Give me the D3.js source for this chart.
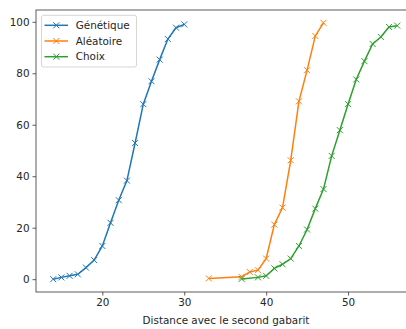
<!DOCTYPE html>
<html><head><meta charset="utf-8">
<script src="https://cdn.jsdelivr.net/npm/d3@7"></script>
<style>body{margin:0;background:#fff}svg{display:block}text{font-family:"DejaVu Sans",sans-serif;fill:#262626}</style>
</head><body><svg id="c" width="406" height="329"></svg>
<script>
const seriesNames = ["Génétique", "Aléatoire", "Choix"];
const colors = ["#1f77b4", "#ff7f0e", "#2ca02c"];
const xGen = [14,15,16,17,18,19,20,21,22,23,24,25,26,27,28,29,30];
const yGen = [0,0.7,1.3,1.9,4.5,7.4,12.9,21.9,30.7,38.3,52.9,68,76.9,85.3,93.3,97.7,99];
const xAle = [33,37,38,39,40,41,42,43,44,45,46,47];
const yAle = [0.3,0.9,2.8,3.5,8,21.2,27.8,46.2,69.1,81.2,94.5,99.6];
const xCho = [37,39,40,41,42,43,44,45,46,47,48,49,50,51,52,53,54,55,56];
const yCho = [0.1,0.7,1.3,4.2,5.8,8,12.9,19.3,27.4,35,47.9,57.9,68,77.6,84.7,91.4,94.1,98,98.5];
const xTicks = [20,30,40,50];
const yTicks = [0,20,40,60,80,100];
const xLabel = "Distance avec le second gabarit";

const series = [[xGen,yGen],[xAle,yAle],[xCho,yCho]].map((s,i)=>({name:seriesNames[i],color:colors[i],pts:s[0].map((x,j)=>[x,s[1][j]])}));

const svg = d3.select("#c");
const L=36, T=10, B=292, R=414.4;
const FS = 10.4;
const x = d3.scaleLinear().domain([11.9,58.1]).range([L,R]);
const y = d3.scaleLinear().domain([-4.98,104.58]).range([B,T]);

const xa = svg.append("g").attr("transform",`translate(0,${B})`).call(d3.axisBottom(x).tickValues(xTicks).tickSize(3.5).tickPadding(3));
const ya = svg.append("g").attr("transform",`translate(${L},0)`).call(d3.axisLeft(y).tickValues(yTicks).tickSize(3.5).tickPadding(3));
[xa,ya].forEach(a=>{a.select(".domain").remove();a.selectAll("line").attr("stroke","#333").attr("stroke-width",0.8);a.selectAll("text").attr("font-size",FS).attr("fill","#262626").style("font-family","DejaVu Sans");});

// spines
const sp = svg.append("g").attr("stroke","#333").attr("stroke-width",0.8).attr("fill","none");
sp.append("rect").attr("x",L).attr("y",T).attr("width",R-L).attr("height",B-T);

svg.append("text").attr("x",226).attr("y",324).attr("text-anchor","middle").attr("font-size",FS).text(xLabel);

const line = d3.line().x(d=>x(d[0])).y(d=>y(d[1]));
function cross(g,cx,cy,c){const s=3;g.append("path").attr("d",`M${cx-s},${cy-s}L${cx+s},${cy+s}M${cx-s},${cy+s}L${cx+s},${cy-s}`).attr("stroke",c).attr("stroke-width",1).attr("fill","none");}
series.forEach(s=>{
  svg.append("path").datum(s.pts).attr("d",line).attr("fill","none").attr("stroke",s.color).attr("stroke-width",1.5);
  const g=svg.append("g");
  s.pts.forEach(p=>cross(g,x(p[0]),y(p[1]),s.color));
});

// legend
const lg = svg.append("g");
lg.append("rect").attr("x",41.5).attr("y",15.3).attr("width",95).attr("height",51.7).attr("rx",2).attr("fill","#fff").attr("fill-opacity",0.8).attr("stroke","#ccc").attr("stroke-width",0.8);
series.forEach((s,i)=>{
  const cy = 25.3 + i*15.7;
  lg.append("line").attr("x1",44.5).attr("x2",68).attr("y1",cy).attr("y2",cy).attr("stroke",s.color).attr("stroke-width",1.5);
  cross(lg,56.3,cy,s.color);
  lg.append("text").attr("x",75.7).attr("y",cy+3.7).attr("font-size",FS).text(s.name);
});
</script></body></html>
